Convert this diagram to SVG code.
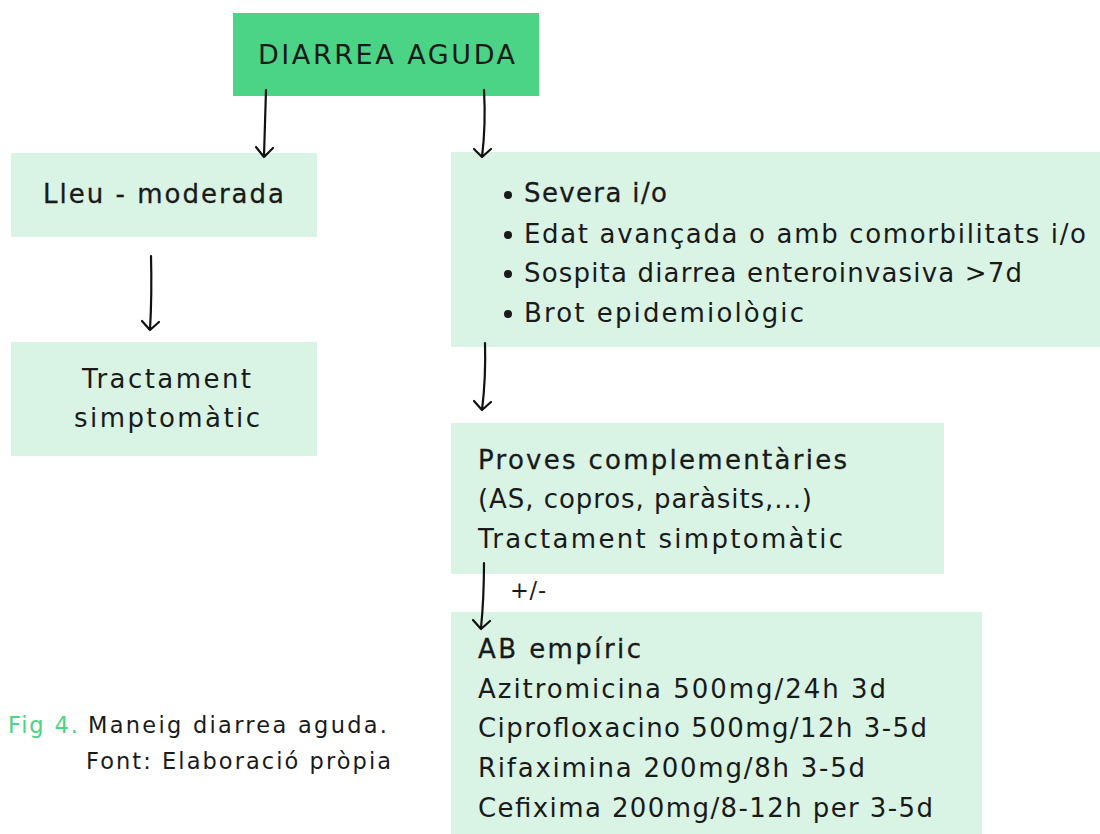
<svg xmlns="http://www.w3.org/2000/svg" width="1100" height="834" viewBox="0 0 1100 834">
<defs>
<style>
.main{fill:#4bd386}
.box{fill:#d9f3e4}
text{font-family:"DejaVu Sans","Open Sans",sans-serif;fill:#1a1a1a}
.t{font-size:26px}
.h{font-size:27px}
.m{stroke:#1a1a1a;stroke-width:0.3}
.c{font-size:22.5px}
.arr{fill:none;stroke:#111;stroke-width:2.2;stroke-linecap:round;stroke-linejoin:round}
</style>
</defs>
<rect width="1100" height="834" fill="#fff"/>
<g id="n-diarrea">
<rect class="main" x="233" y="13" width="306" height="83"/>
<text class="h" x="258" y="64" textLength="257" lengthAdjust="spacing">DIARREA AGUDA</text>
</g>
<g id="n-lleu">
<rect class="box" x="11" y="153" width="306" height="84"/>
<text class="t m" x="43" y="203" textLength="241" lengthAdjust="spacing">Lleu - moderada</text>
</g>
<g id="n-tract">
<rect class="box" x="11" y="342" width="306" height="114"/>
<text class="t" x="82" y="388" textLength="169" lengthAdjust="spacing">Tractament</text>
<text class="t" x="74" y="427" textLength="186" lengthAdjust="spacing">simptomàtic</text>
</g>
<g id="n-severa">
<rect class="box" x="451" y="152" width="649" height="195"/>
<circle cx="508" cy="195" r="4" fill="#1a1a1a"/>
<circle cx="508" cy="235" r="4" fill="#1a1a1a"/>
<circle cx="508" cy="274" r="4" fill="#1a1a1a"/>
<circle cx="508" cy="314" r="4" fill="#1a1a1a"/>
<text class="t m" x="524" y="202" textLength="143" lengthAdjust="spacing">Severa i/o</text>
<text class="t" x="524" y="243" textLength="562" lengthAdjust="spacing">Edat avançada o amb comorbilitats i/o</text>
<text class="t" x="524" y="282" textLength="498" lengthAdjust="spacing">Sospita diarrea enteroinvasiva &gt;7d</text>
<text class="t" x="524" y="322" textLength="280" lengthAdjust="spacing">Brot epidemiològic</text>
</g>
<g id="n-proves">
<rect class="box" x="451" y="423" width="493" height="151"/>
<text class="t m" x="478" y="469" textLength="369" lengthAdjust="spacing">Proves complementàries</text>
<text class="t" x="478" y="508" textLength="334" lengthAdjust="spacing">(AS, copros, paràsits,...)</text>
<text class="t" x="478" y="548" textLength="365" lengthAdjust="spacing">Tractament simptomàtic</text>
</g>
<g id="n-ab">
<rect class="box" x="451" y="612" width="531" height="222"/>
<text class="t m" x="478" y="658" textLength="163" lengthAdjust="spacing">AB empíric</text>
<text class="t" x="478" y="698" textLength="408" lengthAdjust="spacing">Azitromicina 500mg/24h 3d</text>
<text class="t" x="478" y="737" textLength="449" lengthAdjust="spacing">Ciprofloxacino 500mg/12h 3-5d</text>
<text class="t" x="478" y="777" textLength="387" lengthAdjust="spacing">Rifaximina 200mg/8h 3-5d</text>
<text class="t" x="478" y="817" textLength="455" lengthAdjust="spacing">Cefixima 200mg/8-12h per 3-5d</text>
</g>
<g id="caption">
<text class="c" x="8" y="733" style="fill:#4bd386" textLength="70" lengthAdjust="spacing">Fig 4.</text>
<text class="c" x="88" y="733" textLength="299" lengthAdjust="spacing">Maneig diarrea aguda.</text>
<text class="c" x="86" y="769" textLength="305" lengthAdjust="spacing">Font: Elaboració pròpia</text>
</g>
<g id="connectors">
<path class="arr" d="M266 90 Q265 125 264 156 M256 147 L264 157 L273 148"/>
<path class="arr" d="M484 90 Q486 125 482 157 M474 149 L482 157 L491 149"/>
<path class="arr" d="M151 256 Q152 295 150 330 M142 321 L150 330 L159 322"/>
<path class="arr" d="M485 343 Q486 378 482 410 M474 401 L482 410 L491 402"/>
<path class="arr" d="M484 563 Q484 598 481 628 M473 620 L481 629 L490 621"/>
<text class="c" x="510" y="598" textLength="36" lengthAdjust="spacing">+/-</text>
</g>
</svg>
